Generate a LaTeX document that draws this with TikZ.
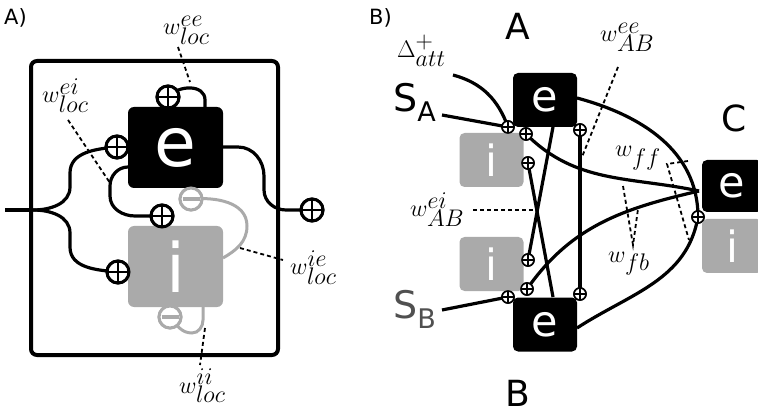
\RequirePackage{fix-cm}
\documentclass[tikz,border=0pt]{standalone}
\usepackage{fontspec}
\newfontfamily\dv{DejaVu Sans}
\definecolor{igray}{RGB}{170,170,170}
\definecolor{sgray}{RGB}{80,80,80}
\newcommand\wlab[2]{$w^{\textstyle #1}_{\textstyle #2}$}
\begin{document}
\begin{tikzpicture}[x=1pt,y=1pt,
  ln/.style={line width=3.2pt},
  gln/.style={line width=3pt, igray},
  dsh/.style={line width=1.8pt, dash pattern=on 4pt off 3pt},
  frame/.style={line width=4pt, rounded corners=6pt},
  bigbox/.style={rectangle, rounded corners=6pt, inner sep=0pt, text=white,
     minimum width=95pt, minimum height=81pt, font=\dv\fontsize{68}{70}\selectfont},
  smallbox/.style={rectangle, rounded corners=5pt, inner sep=0pt, text=white,
     minimum width=64pt, minimum height=54pt, font=\dv\fontsize{43}{45}\selectfont},
  pa/.style={circle, draw, fill=white, line width=3pt, minimum size=22pt, inner sep=0pt,
     path picture={\draw[line width=2.2pt] (path picture bounding box.north) -- (path picture bounding box.south)
        (path picture bounding box.west) -- (path picture bounding box.east);}},
  pb/.style={circle, draw, fill=white, line width=1.6pt, minimum size=12pt, inner sep=0pt,
     path picture={\draw[line width=1.3pt] (path picture bounding box.north) -- (path picture bounding box.south)
        (path picture bounding box.west) -- (path picture bounding box.east);}},
  mi/.style={circle, draw=igray, fill=white, line width=3pt, minimum size=22pt, inner sep=0pt,
     path picture={\draw[igray, line width=4pt] ([xshift=2.5pt]path picture bounding box.west) -- ([xshift=-2.5pt]path picture bounding box.east);}},
  lab/.style={inner sep=0pt, anchor=base west, font=\fontsize{24}{28}\selectfont},
  plab/.style={inner sep=0pt, anchor=base west, font=\dv\fontsize{21}{23}\selectfont},
  big/.style={inner sep=0pt, anchor=base, font=\dv\fontsize{36}{38}\selectfont}
]
\path[use as bounding box] (0,0) rectangle (758,-414);
\clip (0,0) rectangle (758,-414);

% ================= Panel A =================
\node[plab] (la) at (4,-25) {A)};
\draw[frame] (31,-61) rectangle (278,-355);

\coordinate (in) at (5,-210);
\coordinate (fork) at (33,-210);
\coordinate (eAl) at (128,-167);
\coordinate (eAr) at (223,-147);
\coordinate (eAt) at (205,-107);
\coordinate (iAr) at (223,-258);
\coordinate (iAb) at (203,-307);

\node[pa] (pA0) at (168,-97) {};
\node[pa] (pA1) at (117,-147) {};
\node[pa] (pA3) at (162,-216) {};
\node[pa] (pA4) at (118,-272) {};
\node[pa] (pA5) at (312,-210) {};
\node[mi] (mA1) at (191,-199) {};
\node[mi] (mA2) at (170,-317) {};

\draw[ln] (in) -- (fork);
\draw[ln] (fork) to[out=0,in=-90] (70,-187) -- (70,-173) to[out=90,in=185] (pA1.center);
\draw[ln] (fork) to[out=0,in=90] (70,-233) -- (70,-247) to[out=-90,in=175] (pA4.center);
\draw[ln] (pA0.center) to[out=50,in=90,looseness=1.1] (eAt |- 0,-100) -- (eAt);
\draw[ln] (eAr) -- (238,-147) to[out=0,in=90] (264,-176) -- (264,-190) to[out=-90,in=180] (286,-210) -- (pA5.center);
\draw[ln] (eAl) to[out=180,in=90] (110,-186) -- (110,-196) to[out=-90,in=180] (135,-216) -- (pA3.center);
\draw[gln] (mA1.center) to[out=5,in=90] (247,-226) to[out=-90,in=30] (iAr);
\draw[gln] (mA2.center) to[out=-50,in=180] (192,-333) to[out=0,in=-90] (iAb |- 0,-320) -- (iAb);

\node[bigbox, fill=black] (eA) at (175.5,-147.5) {e};
\node[bigbox, fill=igray] (iA) at (175.5,-266.5) {i};

\node[pa] at (pA0) {};
\node[pa] at (pA1) {};
\node[pa] at (pA3) {};
\node[pa] at (pA4) {};
\node[pa] at (pA5) {};
\node[mi] at (mA1) {};
\node[mi] at (mA2) {};

\node[lab] (wee) at (163,-35) {\wlab{ee}{loc}};
\node[lab] (wei) at (42,-103) {\wlab{ei}{loc}};
\node[lab] (wie) at (290,-275) {\wlab{ie}{loc}};
\node[lab] (wii) at (179,-393) {\wlab{ii}{loc}};
\coordinate (dee1) at (178,-47);  \coordinate (dee2) at (190,-82);
\coordinate (dei1) at (68,-120);  \coordinate (dei2) at (110,-183);
\coordinate (die1) at (240,-248); \coordinate (die2) at (283,-260);
\coordinate (dii1) at (205,-328); \coordinate (dii2) at (200,-365);
\draw[dsh] (dee1) -- (dee2);
\draw[dsh] (dei1) -- (dei2);
\draw[dsh] (die1) -- (die2);
\draw[dsh] (dii1) -- (dii2);

% ================= Panel B =================
\node[plab] (lb) at (369,-25) {B)};
\node[big] (LA) at (518,-40) {A};
\node[big] (LB) at (518,-406) {B};
\node[big] (LC) at (734,-132) {C};

\coordinate (cj) at (699,-191);
\coordinate (dstart) at (453,-75);
\coordinate (sastart) at (442,-115);
\coordinate (sbstart) at (442,-310);
\coordinate (eAbot) at (553,-127);
\coordinate (eBtop) at (553,-297);
\coordinate (eAeast) at (577,-98);
\coordinate (eBeast) at (577,-328);

\node[pb] (p1) at (508,-127) {};
\node[pb] (p2) at (526,-134) {};
\node[pb] (p3) at (580,-130) {};
\node[pb] (p4) at (528,-163) {};
\node[pb] (p5) at (528,-260) {};
\node[pb] (p6) at (527,-289) {};
\node[pb] (p7) at (508,-297) {};
\node[pb] (p8) at (580,-294) {};
\node[pb] (p9) at (698,-217) {};

\draw[ln] (dstart) to[out=-15,in=110] (p1.center);
\draw[ln] (sastart) -- (p1.center);
\draw[ln] (sbstart) -- (p7.center);
\draw[ln] (p2.center) to[out=-45,in=168] (cj);
\draw[ln] (p6.center) to[out=55,in=193] (cj);
\draw[ln] (eAeast) to[out=-15,in=90] (p9.center);
\draw[ln] (eBeast) to[out=33,in=-100] (p9.center);
\draw[ln] (p3.center) -- (p8.center);
\draw[ln] (eAbot) -- (p5.center);
\draw[ln] (eBtop) -- (p4.center);

\node[smallbox, fill=black] (eA2) at (545,-100) {e};
\node[smallbox, fill=igray] (iA2) at (491.5,-160) {i};
\node[smallbox, fill=igray] (iB2) at (491.5,-264) {i};
\node[smallbox, fill=black] (eB2) at (545,-324.5) {e};
\node[smallbox, fill=black, minimum width=60pt, minimum height=52pt] (eC) at (732,-186) {e};
\node[smallbox, fill=igray, minimum width=60pt, minimum height=54pt] (iC) at (732,-246) {i};

\foreach \p in {p1,p2,p3,p4,p5,p6,p7,p8,p9} {\node[pb] at (\p) {};}

\node[lab] (delta) at (397,-58) {$\Delta^{\textstyle +}_{\textstyle att}$};
\node[inner sep=0pt, anchor=base west, font=\dv\fontsize{38}{40}\selectfont] (SA) at (393,-112)
   {S\raisebox{-10pt}{\fontsize{27}{28}\selectfont A}};
\node[inner sep=0pt, anchor=base west, text=sgray, font=\dv\fontsize{38}{40}\selectfont] (SB) at (393,-318)
   {S\raisebox{-10pt}{\fontsize{27}{28}\selectfont B}};

\node[lab] (wABee) at (600,-42) {\wlab{ee}{AB}};
\node[lab] (wABei) at (410,-217) {\wlab{ei}{AB}};
\node[lab] (wff) at (615,-157) {$w_{\textstyle ff}$};
\node[lab] (wfb) at (608,-262) {$w_{\textstyle fb}$};

\coordinate (a1) at (618,-67);  \coordinate (a2) at (582,-157);
\coordinate (b1) at (473,-210); \coordinate (b2) at (537,-210);
\coordinate (f0) at (667,-164); \coordinate (f1) at (688,-161); \coordinate (f2) at (689,-240);
\coordinate (g0) at (633,-245); \coordinate (g1) at (623,-186); \coordinate (g2) at (638,-209);
\draw[dsh] (a1) -- (a2);
\draw[dsh] (b1) -- (b2);
\draw[dsh] (f1) -- (f0) -- (f2);
\draw[dsh] (g1) -- (g0) -- (g2);
\end{tikzpicture}
\end{document}
